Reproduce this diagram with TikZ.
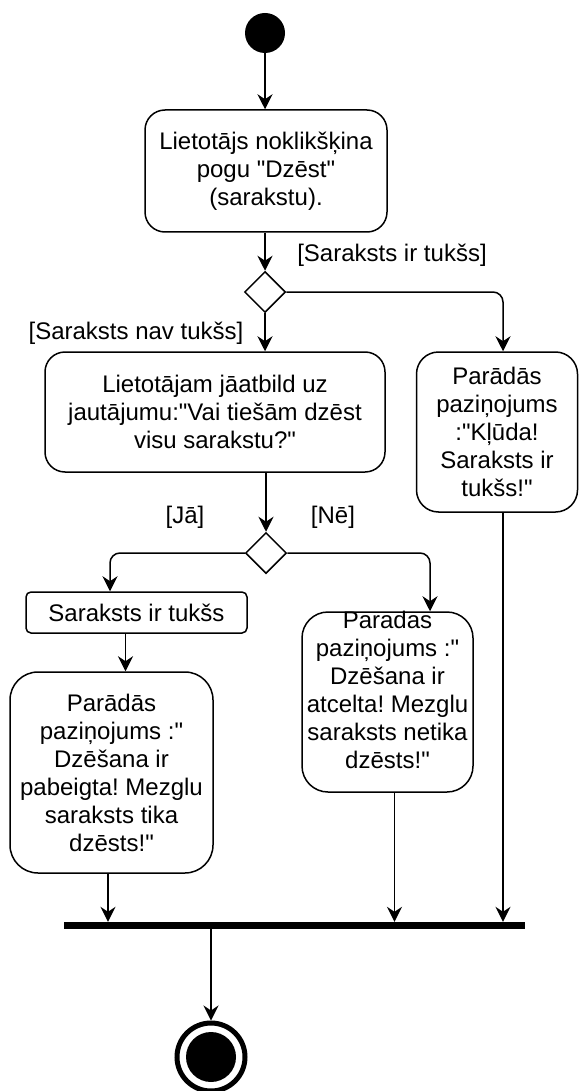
\documentclass[tikz,border=0pt]{standalone}
\usepackage{fontspec}
\setmainfont{Liberation Sans}[Ligatures=TeXOff]
\usetikzlibrary{shapes.geometric,arrows.meta,calc}
\frenchspacing
\newcommand{\dfs}{\fontsize{24}{28}\selectfont}
\tikzset{
  lw/.style={line width=1.5pt},
  act/.style={draw, lw, align=center, font=\dfs, inner sep=0pt, text=black},
  txt/.style={font=\dfs, inner sep=0pt, align=center},
  dec/.style={draw, lw, diamond, inner sep=0pt, minimum width=41pt, minimum height=41pt, fill=white},
  flow/.style={lw, -{Stealth[length=15pt,width=15pt,inset=5pt]}},
}
\begin{document}
\begin{tikzpicture}[x=1pt,y=-1pt]
\useasboundingbox (0,0) rectangle (579,1091);
% nodes
\node[circle, fill=black, inner sep=0pt, minimum size=40pt] (start) at (265,33) {};
\node[act, rounded corners=20pt, minimum width=242pt, minimum height=122pt] (b1) at (266,171)
  {Lietotājs noklikšķina\\pogu "Dzēst"\\(sarakstu).};
\node[dec] (d1) at (265,292) {};
\node[act, rounded corners=20pt, minimum width=340pt, minimum height=120pt] (b2) at (215,412)
  {Lietotājam jāatbild uz\\jautājumu:"Vai tiešām dzēst\\visu sarakstu?"};
\node[act, rounded corners=22pt, minimum width=161pt, minimum height=160pt] (rb) at (497,432)
  {Parādās\\paziņojums\\:"Kļūda!\\Saraksts ir\\tukšs!"};
\node[dec] (d2) at (266,553) {};
\node[act, rounded corners=5pt, minimum width=221pt, minimum height=41pt] (b3) at (136.5,612.5)
  {Saraksts ir tukšs};
\node[act, rounded corners=26pt, minimum width=171pt, minimum height=180pt] (b4) at (387.5,702) {};
\node[txt] (b4t) at (387.5,690)
  {Paradas\\paziņojums :"\\Dzēšana ir\\atcelta! Mezglu\\saraksts netika\\dzēsts!"};
\node[act, rounded corners=28pt, minimum width=203pt, minimum height=201pt] (b5) at (111.5,772.5)
  {Parādās\\paziņojums :"\\Dzēšana ir\\pabeigta! Mezglu\\saraksts tika\\dzēsts!"};
\node[fill=black, inner sep=0pt, minimum width=461pt, minimum height=7pt] (bar) at (294.5,925.5) {};
\node[circle, draw, line width=5pt, inner sep=0pt, minimum size=68pt,
  path picture={\fill[black] (path picture bounding box.center) circle (25pt);}] (end) at (211,1057) {};
% labels
\node[txt] (l1) at (392,255) {[Saraksts ir tukšs]};
\node[txt] (l2) at (136,333) {[Saraksts nav tukšs]};
\node[txt] (l3) at (185,517) {[Jā]};
\node[txt] (l4) at (333,517) {[Nē]};
% coordinates
\coordinate (rbin) at ([xshift=6pt]rb.north);
\coordinate (b3in) at ([xshift=-26.5pt]b3.north);
\coordinate (b4in) at ([xshift=42.5pt]b4.north);
\coordinate (b3out) at ([xshift=-11pt]b3.south);
\coordinate (b5out) at ([xshift=-3.5pt]b5.south);
\coordinate (b4out) at ([xshift=7pt]b4.south);
% connectors
\draw[flow] (start) -- (start |- b1.north);
\draw[flow] (b1.south -| d1.north) -- (d1.north);
\draw[flow] (d1.south) -- (d1.south |- b2.north);
\draw[flow, rounded corners=10pt] (d1.east) -| (rbin);
\draw[flow] (d2.north |- b2.south) -- (d2.north);
\draw[flow, rounded corners=10pt] (d2.west) -| (b3in);
\draw[flow, rounded corners=10pt] (d2.east) -| (b4in);
\draw[flow] (b3out) -- (b3out |- b5.north);
\draw[flow] (b5out) -- (b5out |- bar.north);
\draw[flow] (b4out) -- (b4out |- bar.north);
\draw[flow] (rb.south -| rbin) -- (rbin |- bar.north);
\draw[flow] (bar.south -| end.north) -- (end.north);
\end{tikzpicture}
\end{document}
